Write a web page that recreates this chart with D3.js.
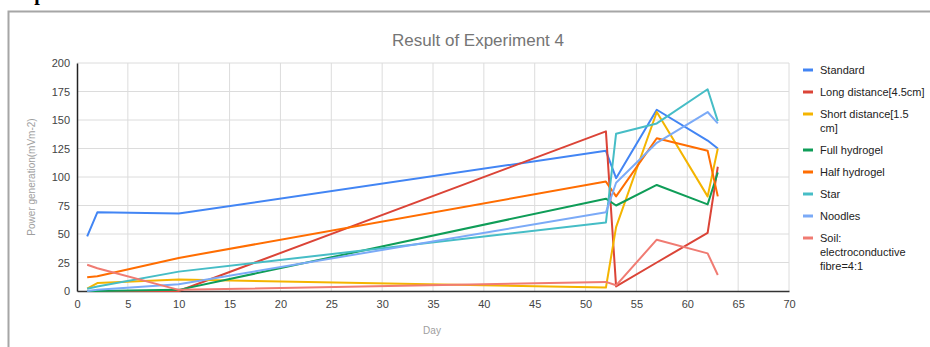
<!DOCTYPE html>
<html><head><meta charset="utf-8">
<script src="https://cdn.jsdelivr.net/npm/d3@7"></script>
<style>body{margin:0;background:#fff;}svg{display:block;}</style>
</head><body>
<svg id="c" width="930" height="347"></svg>
<script>
const days = [1, 2, 10, 52, 53, 57, 62, 63];
const seriesNames = ["Standard","Long distance[4.5cm]","Short distance[1.5 cm]","Full hydrogel","Half hydrogel","Star","Noodles","Soil: electroconductive fibre=4:1"];
const legendLines = [["Standard"],["Long distance[4.5cm]"],["Short distance[1.5","cm]"],["Full hydrogel"],["Half hydrogel"],["Star"],["Noodles"],["Soil:","electroconductive","fibre=4:1"]];
const standard      = [48, 69, 68, 123, 99, 159, 132, 125];
const longDistance  = [0, 0, 0, 140, 4, 25, 51, 109];
const shortDistance = [2, 7, 10, 3, 56, 157, 83, 125];
const fullHydrogel  = [0, 0, 1, 81, 75, 93, 76, 104];
const halfHydrogel  = [12, 13, 29, 96, 83, 134, 123, 83];
const star          = [2, 4, 17, 60, 138, 147, 177, 149];
const noodles       = [0, 1, 6, 69, 95, 130, 157, 147];
const soil          = [23, 20, 1, 8, 5, 45, 33, 14];
const colors = ["#4285F4","#DB4437","#F4B400","#0F9D58","#FF6D01","#46BDC6","#7BAAF7","#F07B72"];
const xTicks = d3.range(0, 71, 5);
const yTicks = [0, 25, 50, 75, 100, 125, 150, 175, 200];
const allSeries = [standard, longDistance, shortDistance, fullHydrogel, halfHydrogel, star, noodles, soil];

const svg = d3.select("#c");
const font = "Arial, 'Liberation Sans', sans-serif";

// document fragments: cropped heading and frame
svg.append("text").attr("x", 11).attr("y", 0).attr("font-family", "'Liberation Serif', 'Times New Roman', serif")
  .attr("font-weight", "bold").attr("font-size", 20).attr("fill", "#000").text("Experiment results");
svg.append("path").attr("d", "M8.5,347 V11.5 H930").attr("fill", "none").attr("stroke", "#a6a6a6").attr("stroke-width", 2);

const x = d3.scaleLinear().domain([0, 70]).range([77, 789]);
const y = d3.scaleLinear().domain([0, 200]).range([291, 63]);

// title
svg.append("text").attr("x", 478).attr("y", 46).attr("text-anchor", "middle")
  .attr("font-family", font).attr("font-size", 17).attr("fill", "#757575").text("Result of Experiment 4");

// grid
const g = svg.append("g");
g.selectAll("line.h").data(yTicks.filter(d => d > 0)).join("line")
  .attr("x1", x(0)).attr("x2", x(70)).attr("y1", d => y(d)).attr("y2", d => y(d))
  .attr("stroke", "#dcdcdc").attr("stroke-width", 1);
g.selectAll("line.v").data(xTicks.filter(d => d > 0)).join("line")
  .attr("x1", d => x(d)).attr("x2", d => x(d)).attr("y1", y(0)).attr("y2", y(200))
  .attr("stroke", "#dcdcdc").attr("stroke-width", 1);

// axes
const xAxis = d3.axisBottom(x).tickValues(xTicks).tickSize(0).tickPadding(9);
const yAxis = d3.axisLeft(y).tickValues(yTicks).tickSize(0).tickPadding(7);
const gx = svg.append("g").attr("transform", `translate(0,${y(0)})`).call(xAxis);
const gy = svg.append("g").attr("transform", `translate(${x(0)},0)`).call(yAxis);
[gx, gy].forEach(a => {
  a.selectAll("text").attr("font-family", font).attr("font-size", 11).attr("fill", "#444");
});
gx.select(".domain").attr("stroke", "#333").attr("stroke-width", 1.5);
gy.select(".domain").attr("stroke", "#222").attr("stroke-width", 1.5);

// axis titles
svg.append("text").attr("x", 432).attr("y", 334).attr("text-anchor", "middle")
  .attr("font-family", font).attr("font-size", 10).attr("fill", "#9e9e9e").text("Day");
svg.append("text").attr("transform", "translate(35,177) rotate(-90)").attr("text-anchor", "middle")
  .attr("font-family", font).attr("font-size", 10).attr("fill", "#9e9e9e").text("Power generation(mVm-2)");

// lines
const line = d3.line().x((d, i) => x(days[i])).y(d => y(d));
svg.append("g").selectAll("path").data(allSeries).join("path")
  .attr("d", d => line(d)).attr("fill", "none")
  .attr("stroke", (d, i) => colors[i]).attr("stroke-width", 2)
  .attr("stroke-linejoin", "round");

// legend
const starts = [70, 92, 114, 150, 172, 194, 216, 238];
const lg = svg.append("g");
seriesNames.forEach((n, i) => {
  lg.append("line").attr("x1", 803).attr("x2", 813).attr("y1", starts[i]).attr("y2", starts[i])
    .attr("stroke", colors[i]).attr("stroke-width", 3);
  const t = lg.append("text").attr("x", 820).attr("y", starts[i] + 4)
    .attr("font-family", font).attr("font-size", 11).attr("fill", "#222");
  legendLines[i].forEach((l, k) => t.append("tspan").attr("x", 820).attr("dy", k === 0 ? 0 : 14).text(l));
});
</script>
</body></html>
